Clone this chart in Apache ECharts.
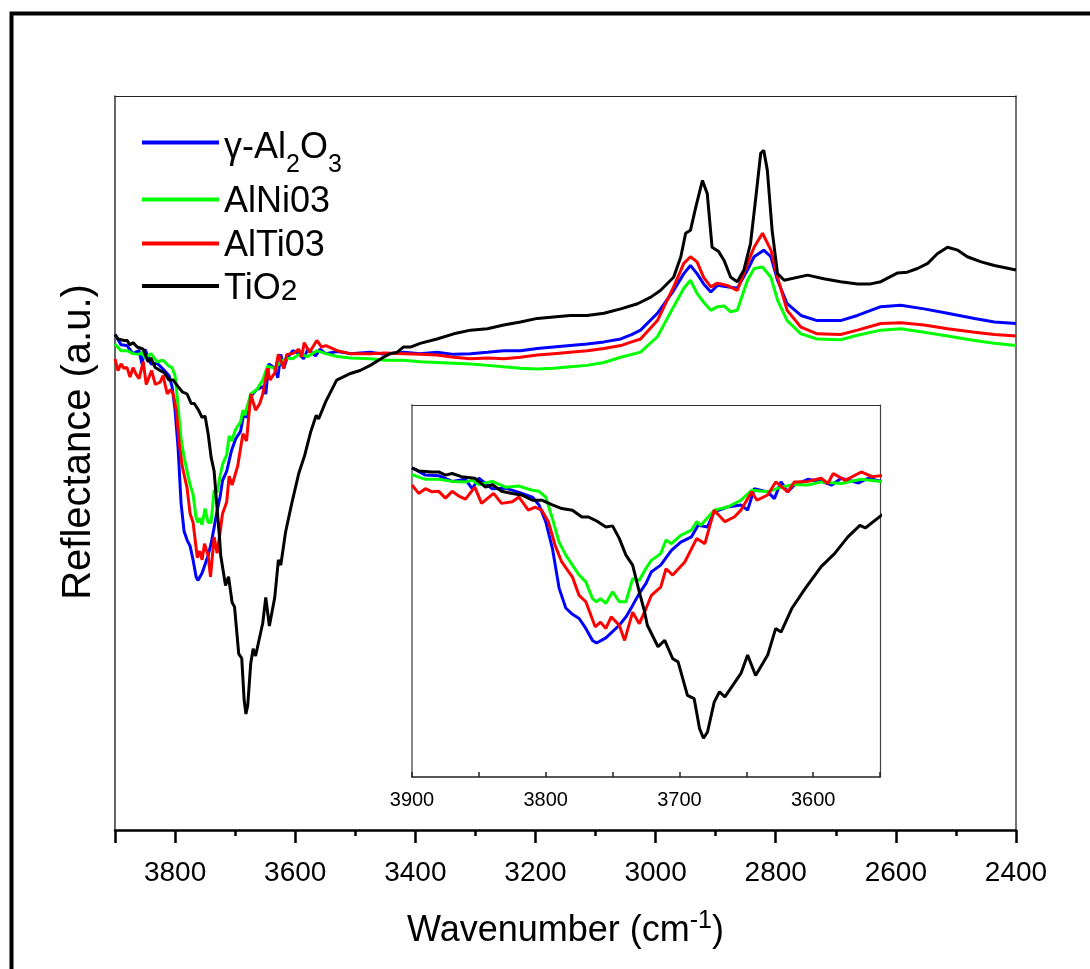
<!DOCTYPE html>
<html><head><meta charset="utf-8">
<script src="https://cdn.jsdelivr.net/npm/echarts@6/dist/echarts.min.js"></script>
<style>html,body{margin:0;padding:0;background:#fff}#c{width:1090px;height:969px}</style>
</head><body><div id="c"></div><script>
// ---------- data (wavenumber cm-1, reflectance a.u.) ----------
const seriesNames = ['γ-Al2O3', 'AlNi03', 'AlTi03', 'TiO2'];

const alumina = [[3900,67.5],[3890,66.1],[3880,66.0],[3870,64.9],[3860,65.3],[3855,63.5],[3850,65.5],[3840,63.5],[3830,63.6],[3820,62.8],[3810,61.9],[3805,60.4],[3800,57.2],[3795,52.1],[3790,44.5],[3785,40.7],[3780,39.5],[3775,38.7],[3770,36.8],[3765,34.5],[3762,34.0],[3755,35.0],[3745,37.4],[3740,39.0],[3735,41.2],[3730,43.5],[3725,45.4],[3721,47.6],[3714,48.9],[3706,51.7],[3699,53.3],[3691,54.3],[3686,56.5],[3679,56.2],[3674,59.1],[3664,60.0],[3654,60.4],[3649,59.4],[3644,63.5],[3634,62.9],[3629,61.6],[3624,64.8],[3619,62.9],[3614,64.2],[3604,65.3],[3594,64.9],[3586,64.2],[3579,65.5],[3566,64.6],[3559,65.5],[3549,64.9],[3530,65.2],[3508,64.9],[3475,65.1],[3450,64.8],[3419,65.1],[3392,64.9],[3364,65.1],[3336,64.8],[3308,64.9],[3280,65.1],[3253,65.3],[3225,65.3],[3197,65.6],[3170,65.8],[3142,66.0],[3114,66.2],[3086,66.5],[3058,66.9],[3040,67.5],[3025,68.1],[2997,70.4],[2970,73.5],[2953,75.8],[2942,76.9],[2931,75.8],[2920,74.4],[2908,73.3],[2897,74.2],[2881,74.0],[2864,73.8],[2847,76.3],[2836,78.1],[2820,79.0],[2808,78.1],[2797,74.9],[2781,71.7],[2758,70.1],[2731,69.4],[2692,69.4],[2664,70.1],[2625,71.3],[2592,71.5],[2553,71.0],[2514,70.4],[2469,69.7],[2436,69.2],[2400,69.0]];

const alNi03 = [[3900,66.2],[3890,65.3],[3880,65.3],[3870,64.9],[3860,64.8],[3855,65.1],[3850,64.3],[3840,64.9],[3830,63.8],[3820,64.0],[3810,63.2],[3805,63.0],[3800,61.9],[3795,57.8],[3790,53.3],[3785,50.8],[3780,48.9],[3775,47.0],[3770,45.7],[3765,42.5],[3762,41.9],[3759,42.5],[3755,41.6],[3750,43.8],[3745,41.9],[3740,41.9],[3735,46.3],[3730,46.0],[3725,48.3],[3721,49.8],[3714,51.1],[3710,53.7],[3706,53.0],[3699,54.6],[3691,55.6],[3687,57.2],[3684,56.5],[3674,59.4],[3664,60.0],[3654,61.3],[3646,63.2],[3634,62.9],[3624,63.8],[3614,64.3],[3604,64.2],[3594,64.8],[3579,64.5],[3564,65.3],[3549,64.9],[3530,64.5],[3508,64.3],[3475,64.2],[3450,64.0],[3419,64.0],[3392,63.8],[3364,63.7],[3336,63.6],[3308,63.5],[3280,63.3],[3253,63.1],[3225,62.9],[3197,62.8],[3170,62.9],[3142,63.1],[3114,63.3],[3086,63.7],[3058,64.4],[3025,65.1],[2997,67.2],[2970,71.3],[2953,73.8],[2942,74.9],[2931,73.1],[2920,71.9],[2908,70.8],[2897,71.3],[2886,71.4],[2875,70.6],[2864,70.8],[2847,74.9],[2836,76.5],[2822,76.7],[2808,75.3],[2797,72.2],[2781,69.4],[2758,67.6],[2731,66.9],[2692,66.8],[2664,67.4],[2625,68.1],[2592,68.3],[2553,67.8],[2514,67.3],[2469,66.7],[2436,66.3],[2400,66.0]];

const alTi03 = [[3900,64.2],[3895,62.6],[3890,63.5],[3885,62.9],[3880,63.0],[3875,61.7],[3870,63.0],[3865,62.1],[3860,61.5],[3853,63.8],[3848,60.7],[3839,62.6],[3833,60.7],[3825,61.0],[3820,61.9],[3813,59.4],[3808,60.0],[3803,59.4],[3798,57.2],[3793,52.7],[3788,49.5],[3780,46.6],[3775,43.1],[3770,41.9],[3763,37.1],[3759,38.0],[3755,36.8],[3751,39.0],[3745,37.4],[3741,34.5],[3735,39.9],[3730,37.7],[3725,40.6],[3721,43.1],[3714,44.7],[3710,48.2],[3705,47.0],[3696,49.5],[3687,54.0],[3681,53.0],[3674,59.4],[3666,57.2],[3659,58.1],[3654,59.4],[3646,62.9],[3642,61.3],[3634,62.3],[3628,64.8],[3619,62.9],[3614,64.8],[3604,64.9],[3594,65.5],[3589,64.5],[3585,66.4],[3576,65.1],[3564,66.7],[3556,65.8],[3549,66.0],[3530,65.3],[3508,64.9],[3475,64.9],[3450,65.0],[3419,64.9],[3392,64.8],[3364,64.7],[3336,64.4],[3308,64.2],[3280,64.3],[3253,64.2],[3225,64.4],[3197,64.7],[3170,64.9],[3142,65.1],[3114,65.3],[3086,65.6],[3058,66.0],[3040,66.5],[3025,66.9],[2997,69.4],[2970,74.0],[2953,77.2],[2942,78.1],[2931,77.4],[2920,75.3],[2908,74.0],[2897,74.5],[2881,74.2],[2864,73.5],[2847,77.2],[2836,79.4],[2822,81.3],[2808,79.0],[2797,75.3],[2781,70.8],[2758,68.5],[2731,67.6],[2692,67.5],[2664,68.1],[2625,69.0],[2592,69.1],[2553,68.8],[2514,68.3],[2469,67.8],[2436,67.5],[2400,67.3]];

const tio2 = [[3900,67.5],[3895,66.9],[3885,66.7],[3880,66.7],[3875,66.1],[3870,66.4],[3863,65.8],[3853,65.5],[3845,63.8],[3840,64.3],[3833,63.0],[3825,62.6],[3818,62.3],[3810,61.3],[3803,61.3],[3795,60.4],[3788,59.7],[3780,59.4],[3773,58.1],[3768,58.1],[3761,57.2],[3755,56.2],[3750,56.4],[3745,54.0],[3740,50.8],[3735,48.9],[3730,43.8],[3726,39.9],[3724,37.4],[3716,33.3],[3711,34.5],[3705,31.0],[3701,30.4],[3694,24.0],[3689,23.4],[3685,17.7],[3682,15.8],[3679,17.0],[3674,22.7],[3670,24.7],[3666,23.7],[3654,28.2],[3649,31.7],[3643,27.8],[3634,31.7],[3628,36.8],[3624,36.1],[3616,40.6],[3606,44.4],[3594,48.6],[3584,51.1],[3574,54.3],[3565,56.5],[3561,56.0],[3549,58.4],[3531,61.3],[3508,62.2],[3492,62.6],[3475,63.3],[3453,64.4],[3442,64.9],[3430,65.1],[3420,65.8],[3408,65.8],[3392,66.3],[3364,66.9],[3336,67.6],[3308,68.1],[3280,68.3],[3253,68.8],[3225,69.2],[3197,69.7],[3170,69.9],[3142,70.1],[3114,70.1],[3086,70.4],[3058,71.0],[3030,71.7],[3008,72.6],[2992,73.5],[2970,75.3],[2958,78.1],[2950,81.3],[2942,81.7],[2933,84.9],[2922,88.5],[2914,86.7],[2906,79.4],[2895,78.8],[2886,77.6],[2875,75.3],[2864,74.7],[2853,76.3],[2842,79.9],[2833,86.3],[2825,92.2],[2820,92.6],[2814,89.9],[2806,81.7],[2797,75.8],[2786,74.9],[2747,75.6],[2720,75.1],[2692,74.7],[2664,74.4],[2642,74.4],[2625,74.7],[2597,75.9],[2581,76.0],[2564,76.5],[2547,77.2],[2531,78.5],[2514,79.4],[2497,79.0],[2481,78.1],[2458,77.4],[2436,76.9],[2400,76.3]];

const seriesData = [alumina, alNi03, alTi03, tio2];
const mainRange = [2400, 3900];
const insetRange = [3550, 3900];

// ---------- styling ----------
const colors = ['#0000ff', '#00ff00', '#ff0000', '#000000'];
const FONT = '"Liberation Sans", Arial, Helvetica, sans-serif';

const chart = echarts.init(document.getElementById('c'), null, {renderer: 'canvas'});

const LF = 36;
const legendRich = {
  n: {fontSize: LF, lineHeight: 40, verticalAlign: 'top', padding: [5, 0, 0, 0], fontFamily: FONT, color: '#000'},
  nb: {fontSize: LF, lineHeight: 40, verticalAlign: 'top', padding: [8, 0, 0, 0], fontFamily: FONT, color: '#000'},
  s: {fontSize: 25, lineHeight: 24, verticalAlign: 'top', padding: [30, 0, 0, 0], fontFamily: FONT, color: '#000'},
  m: {fontSize: 30, lineHeight: 32, verticalAlign: 'top', padding: [11, 0, 0, 0], fontFamily: FONT, color: '#000'}
};
function legendFmt(name) {
  if (name === seriesNames[0]) return '{nb|γ-Al}{s|2}{nb|O}{s|3}';
  if (name === seriesNames[3]) return '{n|TiO}{m|2}';
  return '{n|' + name + '}';
}
const legendIconY = [141.7, 196.7, 240.7, 283.3];
const legendHalf = [19.3, 17.3, 17.3, 17.3];
const legends = seriesNames.map((nm, i) => ({
  data: [nm], left: 142, top: legendIconY[i] - legendHalf[i], orient: 'vertical', padding: 0,
  icon: 'rect', itemWidth: 77, itemHeight: 4, selectedMode: false,
  formatter: legendFmt,
  textStyle: {fontFamily: FONT, fontSize: LF, color: '#000', rich: legendRich}
}));

const series = [];
seriesData.forEach((d, i) => {
  series.push({name: seriesNames[i], type: 'line', xAxisIndex: 0, yAxisIndex: 0, data: d,
    showSymbol: false, symbol: 'none', smooth: false, color: colors[i],
    lineStyle: {width: 3, color: colors[i]}, z: 2 + i, animation: false});
  series.push({name: seriesNames[i], type: 'line', xAxisIndex: 3, yAxisIndex: 2, data: d,
    showSymbol: false, symbol: 'none', smooth: false, color: colors[i], clip: true,
    lineStyle: {width: 3, color: colors[i]}, z: 2 + i, animation: false});
});

const option = {
  backgroundColor: '#fff',
  animation: false,
  graphic: [{type: 'rect', left: 9, top: 11, shape: {width: 1200, height: 1100},
    style: {fill: 'none', stroke: '#000', lineWidth: 4}, silent: true, z: 0}],
  legend: legends,
  grid: [
    {left: 115, top: 96, width: 901, height: 734},
    {left: 412, top: 405, width: 468, height: 372}
  ],
  xAxis: [
    {gridIndex: 0, type: 'value', position: 'bottom', inverse: true, min: mainRange[0], max: mainRange[1], interval: 200,
      name: 'Wavenumber (cm{sup|-1})', nameLocation: 'middle', nameGap: 79,
      nameTextStyle: {fontFamily: FONT, fontSize: 36, color: '#000', lineHeight: 44,
        rich: {sup: {fontSize: 25, lineHeight: 25, padding: [0, 0, 19, 0], fontFamily: FONT, color: '#000'}}},
      axisLine: {show: true, lineStyle: {color: '#000', width: 2.5}},
      axisTick: {show: true, inside: false, length: 13, lineStyle: {color: '#000', width: 2.5}},
      axisLabel: {show: true, margin: 29, fontFamily: FONT, fontSize: 28, color: '#000',
        formatter: v => (v === mainRange[1] ? '' : String(v))},
      splitLine: {show: false}},
    {gridIndex: 0, type: 'value', position: 'bottom', inverse: true, min: mainRange[0], max: mainRange[1], interval: 100,
      axisLine: {show: false}, axisLabel: {show: false}, splitLine: {show: false},
      axisTick: {show: true, inside: false, length: 6, lineStyle: {color: '#000', width: 2.5}}},
    {gridIndex: 0, type: 'value', position: 'top', inverse: true, min: mainRange[0], max: mainRange[1],
      axisLine: {show: true, lineStyle: {color: '#222', width: 1.2}}, axisTick: {show: false}, axisLabel: {show: false}, splitLine: {show: false}},
    {gridIndex: 1, type: 'value', position: 'bottom', inverse: true, min: insetRange[0], max: insetRange[1], interval: 50,
      axisLine: {show: true, lineStyle: {color: '#222', width: 1.5}},
      axisTick: {show: true, inside: true, length: 5, lineStyle: {color: '#222', width: 1.5}},
      axisLabel: {show: true, margin: 13, fontFamily: FONT, fontSize: 20, color: '#000',
        formatter: v => (v % 100 === 0 ? String(v) : '')},
      splitLine: {show: false}},
    {gridIndex: 1, type: 'value', position: 'top', inverse: true, min: insetRange[0], max: insetRange[1],
      axisLine: {show: true, lineStyle: {color: '#333', width: 1}}, axisTick: {show: false}, axisLabel: {show: false}, splitLine: {show: false}}
  ],
  yAxis: [
    {gridIndex: 0, type: 'value', position: 'left', min: 0, max: 100,
      name: 'Reflectance (a.u.)', nameLocation: 'middle', nameGap: 16, nameRotate: 90,
      nameTextStyle: {fontFamily: FONT, fontSize: 40, color: '#000', padding: [0, 0, 0, 42]},
      axisLine: {show: true, lineStyle: {color: '#333', width: 1.5}}, axisTick: {show: false}, axisLabel: {show: false}, splitLine: {show: false}},
    {gridIndex: 0, type: 'value', position: 'right', min: 0, max: 100,
      axisLine: {show: true, lineStyle: {color: '#444', width: 1.5}}, axisTick: {show: false}, axisLabel: {show: false}, splitLine: {show: false}},
    {gridIndex: 1, type: 'value', position: 'left', min: 8.4, max: 79.5,
      axisLine: {show: true, lineStyle: {color: '#888', width: 2}}, axisTick: {show: false}, axisLabel: {show: false}, splitLine: {show: false}},
    {gridIndex: 1, type: 'value', position: 'right', min: 8.4, max: 79.5,
      axisLine: {show: true, lineStyle: {color: '#444', width: 1.2}}, axisTick: {show: false}, axisLabel: {show: false}, splitLine: {show: false}}
  ],
  series: series
};
chart.setOption(option);
</script></body></html>
